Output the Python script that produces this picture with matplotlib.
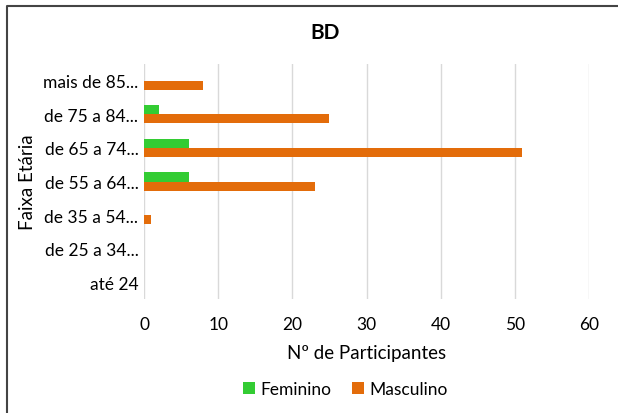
import matplotlib
matplotlib.use("Agg")
import matplotlib.pyplot as plt
import numpy as np
from matplotlib.lines import Line2D

categories = ["até 24", "de 25 a 34...", "de 35 a 54...", "de 55 a 64...",
              "de 65 a 74...", "de 75 a 84...", "mais de 85..."]
feminino = [0, 0, 0, 6, 6, 2, 0]
masculino = [0, 0, 1, 23, 51, 25, 8]
xticks = [0, 10, 20, 30, 40, 50, 60]

plt.rcParams['font.family'] = ['Lato', 'DejaVu Sans']

fig = plt.figure(figsize=(6.18, 4.14), dpi=100)
ax = fig.add_axes([144/618, 1-300/414, (589-144)/618, (300-65)/414])

y = np.arange(len(categories))
h = 0.27
ax.barh(y + h/2, feminino, height=h, color='#33cc33', label='Feminino')
ax.barh(y - h/2, masculino, height=h, color='#e36c0a', label='Masculino')

ax.set_xlim(0, 60)
ax.set_ylim(-0.5, len(categories) - 0.5)
ax.set_xticks(xticks)
ax.set_xticklabels([str(t) for t in xticks], fontsize=12.5)
ax.set_yticks(y)
ax.set_yticklabels(categories, fontsize=12.5)
ax.tick_params(length=0, pad=4)
ax.tick_params(axis='x', pad=12)
ax.grid(axis='x', color='#d9d9d9', linewidth=1)
ax.set_axisbelow(True)
for s in ax.spines.values():
    s.set_visible(False)

ax.set_xlabel("Nº de Participantes", fontsize=13.5, labelpad=9)
ax.set_ylabel("Faixa Etária", fontsize=13.5, labelpad=5)
fig.text(325/618, 1-33/414, "BD", fontsize=15, fontweight='bold', ha='center', va='center')

leg = fig.legend(loc='center', bbox_to_anchor=(345/618, 1-390/414), ncol=2, frameon=False,
                 fontsize=12.5, handlelength=0.7, handleheight=0.7, columnspacing=1.2, handletextpad=0.3)

x0 = 6.5/618
y0 = 1 - 6.5/414
fig.add_artist(Line2D([x0, x0, 1.0], [0.0, y0, y0], transform=fig.transFigure,
                      color='#444444', linewidth=1.5))

fig.savefig("out.png", dpi=100)
